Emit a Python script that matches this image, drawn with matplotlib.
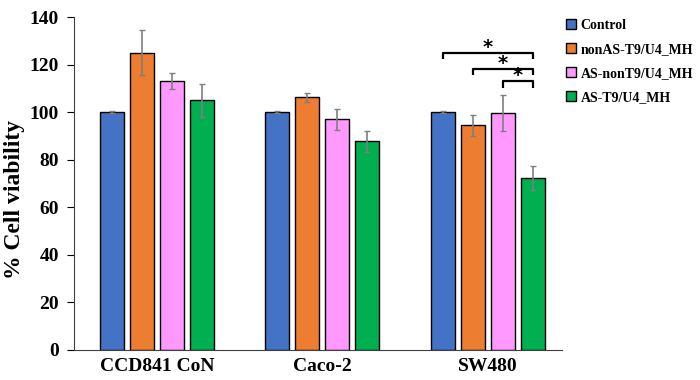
import numpy as np
import matplotlib
matplotlib.use("Agg")
import matplotlib.pyplot as plt

plt.rcParams['font.family'] = ['Liberation Serif', 'DejaVu Serif']
plt.rcParams['font.weight'] = 'bold'

cell_lines = ["CCD841 CoN", "Caco-2", "SW480"]
treatments = ["Control", "nonAS-T9/U4_MH", "AS-nonT9/U4_MH", "AS-T9/U4_MH"]
colors = ["#4472C4", "#ED7D31", "#FF99FF", "#00B050"]

# mean viability per treatment, order follows cell_lines
control = [100, 100, 100]
nonas = [125, 106.3, 94.5]
as_non = [113, 97, 99.8]
as_t9 = [105, 87.7, 72.2]
means = [control, nonas, as_non, as_t9]

err_control = [0.3, 0.3, 0.3]
err_nonas = [9.4, 1.8, 4.5]
err_as_non = [3.4, 4.3, 7.5]
err_as_t9 = [7.0, 4.3, 5.0]
errors = [err_control, err_nonas, err_as_non, err_as_t9]

# significance brackets in SW480: (from treatment, to treatment, height)
sig_pairs = [(0, 3, 125), (1, 3, 118.2), (2, 3, 113)]

fig = plt.figure(figsize=(7, 3.8), dpi=100)
ax = fig.add_axes([0.106, 0.079, 0.697, 0.876])

x = np.arange(len(cell_lines))
step = 0.181
width = 0.145
offsets = (np.arange(len(treatments)) - 1.5) * step

for i, name in enumerate(treatments):
    ax.bar(x + offsets[i], means[i], width, color=colors[i], edgecolor="black",
           linewidth=1.0, label=name, zorder=2)
    ax.errorbar(x + offsets[i], means[i], yerr=errors[i], fmt="none",
                ecolor="#7f7f7f", elinewidth=1.2, capsize=2.5, capthick=1.0, zorder=3)

g = 2
for a, b, h in sig_pairs:
    xa = x[g] + offsets[a]
    xb = x[g] + offsets[b]
    ax.plot([xa, xa, xb, xb], [h - 2.7, h, h, h - 2.7], color="black", lw=1.6,
            solid_capstyle="butt", zorder=4)
    ax.text((xa + xb) / 2, h + 2.4, "*", ha="center", va="center", fontsize=14,
            fontweight="bold", family="DejaVu Sans")

ax.set_xlim(-0.5, 2.45)
ax.set_ylim(0, 140)
ax.set_yticks(np.arange(0, 141, 20))
ax.set_xticks(x)
ax.set_xticklabels(cell_lines, fontsize=14, fontweight="bold")
ax.tick_params(axis="x", length=0, pad=6)
ax.tick_params(axis="y", labelsize=14, length=5, width=0.8, direction="out", pad=6)
for lab in ax.get_yticklabels():
    lab.set_fontweight("bold")
ax.set_ylabel("% Cell viability", fontsize=17, fontweight="bold")
ax.yaxis.set_label_coords(-0.10, 0.453)

for side in ["top", "right"]:
    ax.spines[side].set_visible(False)
ax.spines["left"].set_color("#404040")
ax.spines["bottom"].set_color("#404040")

leg = ax.legend(loc="upper left", bbox_to_anchor=(0.99, 1.02), frameon=False,
                prop={"size": 10, "weight": "bold"}, handlelength=0.75,
                handleheight=0.75, handletextpad=0.35, labelspacing=0.8,
                borderaxespad=0.2)

fig.savefig("out.png", dpi=100)
